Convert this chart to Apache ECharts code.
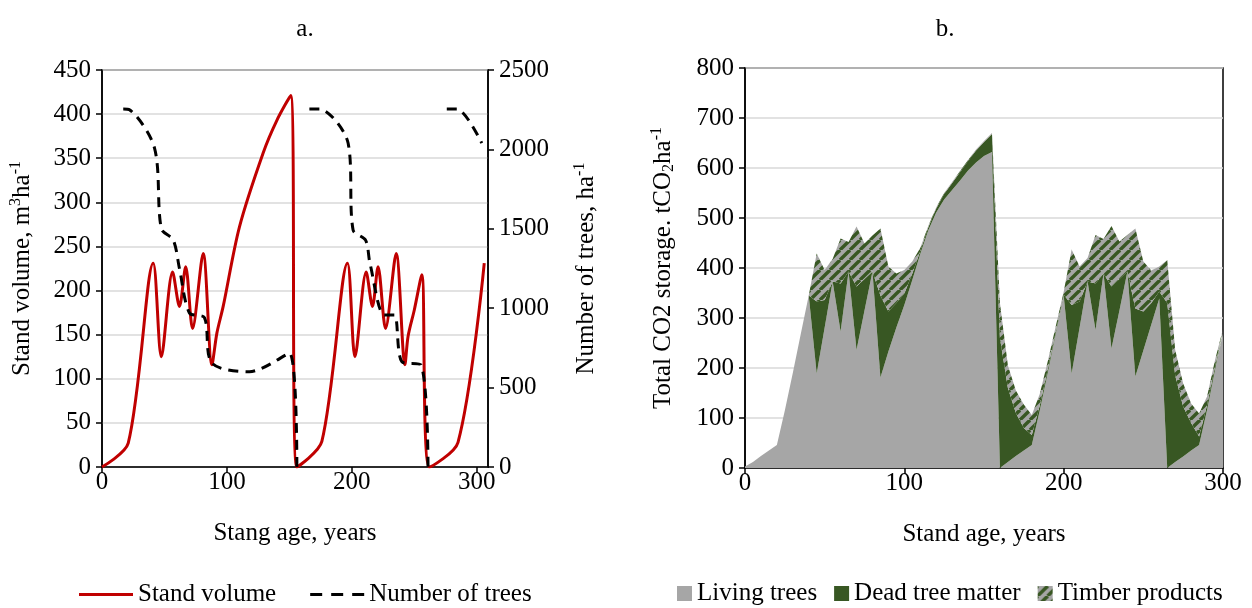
<!DOCTYPE html>
<html><head><meta charset="utf-8">
<script src="https://cdn.jsdelivr.net/npm/echarts@6/dist/echarts.min.js"></script>
<style>html,body{margin:0;padding:0;background:#fff;}#c{width:1252px;height:608px;}</style>
</head><body><div id="c"></div>
<script>
// ---------- Chart a: stand volume & number of trees ----------
const volumeAge   = [0, 21, 41, 47.5, 56.5, 62, 67, 72.5, 81, 88, 92, 97, 110, 129, 140, 151, 156,
                     176, 196.5, 202.5, 211.5, 216.5, 221, 227, 235.5, 242.5, 245, 250, 256, 262, 285, 306];
const standVolume = [0, 27, 231, 125, 221, 182, 227, 157, 242, 116, 152, 182, 272, 356, 393, 421, 0,
                     29, 231, 125, 221, 182, 227, 157, 242, 116, 148, 178, 218, 0, 28, 231];

const treesAge    = [17, 22, 42, 47.5, 57, 62, 70, 82, 88, 118, 150, 156, 160,
                     166, 174, 197, 201, 211, 214.5, 226, 234, 240, 255.5, 261, 268, 276, 284, 304];
const treesCount  = [2255, 2250, 2010, 1500, 1430, 1250, 970, 940, 655, 600, 716, 0, null,
                     2254, 2254, 2040, 1492, 1429, 1283, 957, 957, 663, 642, 0, null, 2254, 2254, 2040];

// ---------- Chart b: total CO2 storage (stacked) ----------
const ageB = [0,5,10,15,20,25,30,35,40,45,50,55,60,65,70,75,80,85,90,95,100,105,110,115,120,125,130,135,140,145,150,155,
              160,165,170,175,180,185,190,195,200,205,210,215,220,225,230,235,240,245,250,255,260,265,270,275,280,285,290,295,300];
const livingTrees = [3,12,24,35,46,115,190,268,345,189,281,373,273,393,236,315,393,181,233,281,326,376,428,475,511,537,556,575,595,611,624,632,
                     0,12,24,35,46,115,190,268,345,189,281,373,276,389,239,315,393,183,235,287,339,0,12,23,35,46,116,196,270];
const deadTreeMatter = [0,0,0,0,0,0,0,0,0,144,55,0,96,0,127,63,0,164,80,49,23,13,6,6,8,11,14,17,19,24,28,36,
                     260,148,86,45,20,10,7,4,2,137,52,0,93,0,124,63,0,136,78,43,14,330,173,100,55,17,10,7,4];
const timberProducts = [0,0,0,0,0,0,0,0,0,96,60,45,90,59,120,71,72,134,90,59,47,24,6,3,2,2,2,2,2,2,2,2,
                     70,45,45,47,40,23,16,11,5,111,70,47,97,69,121,75,73,160,100,65,50,86,51,46,39,46,17,13,4];

const xTicksA = [0, 100, 200, 300];
const xTicksB = [0, 100, 200, 300];

const FONT = "'Liberation Serif', 'Times New Roman', serif";
const FS = 25;
const pairs = (xs, ys) => xs.map((x, i) => [x, ys[i]]);

// hatched pattern for timber products
const T = 10;
const pc = document.createElement('canvas');
pc.width = T; pc.height = T;
const g = pc.getContext('2d');
g.fillStyle = '#a6a6a6'; g.fillRect(0, 0, T, T);
g.strokeStyle = '#385723'; g.lineWidth = 3.4;
[-T, 0, T].forEach(o => { g.beginPath(); g.moveTo(o, T); g.lineTo(o + T, 0); g.stroke(); });
const hatch = { image: pc, repeat: 'repeat' };

const txt = { fontFamily: FONT, fontSize: FS, color: '#000' };
const axisLine = { show: true, lineStyle: { color: '#000', width: 1.5 } };
const tick = { show: true, inside: false, length: 6, lineStyle: { color: '#000', width: 1.5 } };
const split = { show: true, lineStyle: { color: '#d9d9d9', width: 1.5 } };
const plain = v => String(v);
const rich = {
  n: { fontFamily: FONT, fontSize: FS, color: '#000', lineHeight: 28 },
  sup: { fontFamily: FONT, fontSize: 16, color: '#000', lineHeight: 14, verticalAlign: 'top' },
  sub: { fontFamily: FONT, fontSize: 16, color: '#000', lineHeight: 14, verticalAlign: 'bottom' }
};
const isTickB = (i, v) => xTicksB.indexOf(Number(v)) >= 0;

const chart = echarts.init(document.getElementById('c'), null, { renderer: 'canvas' });
chart.setOption({
  animation: false,
  backgroundColor: '#fff',
  title: [
    { text: 'a.', left: 300, top: 12, textAlign: 'center', textStyle: { fontFamily: FONT, fontSize: FS, fontWeight: 'normal', color: '#000' } },
    { text: 'b.', left: 940, top: 12, textAlign: 'center', textStyle: { fontFamily: FONT, fontSize: FS, fontWeight: 'normal', color: '#000' } }
  ],
  legend: [
    { left: 74, top: 577, itemWidth: 54, itemHeight: 3, itemGap: 34, textStyle: txt,
      data: [
        { name: 'Stand volume', icon: 'path://M0,0h54v3h-54z' },
        { name: 'Number of trees', icon: 'path://M0,0h12v3h-12zM21,0h12v3h-12zM42,0h12v3h-12z' }
      ] },
    { data: ['Living trees', 'Dead tree matter', 'Timber products'], left: 672, top: 576, icon: 'rect',
      itemWidth: 15, itemHeight: 15, itemGap: 17, textStyle: txt }
  ],
  grid: [
    { left: 102, top: 70, width: 386, height: 397, show: true, borderColor: '#000', borderWidth: 1.5 },
    { left: 745, top: 68, width: 478, height: 400, show: true, borderColor: '#000', borderWidth: 1.5 }
  ],
  xAxis: [
    { gridIndex: 0, type: 'value', min: 0, max: 309, interval: 100,
      axisLine, axisTick: Object.assign({ customValues: xTicksA }, tick),
      axisLabel: Object.assign({ customValues: xTicksA, margin: 3 }, txt), splitLine: { show: false },
      name: 'Stang age, years', nameLocation: 'middle', nameGap: 54, nameTextStyle: txt },
    { gridIndex: 1, type: 'category', data: ageB, boundaryGap: false,
      axisLine, axisTick: Object.assign({}, tick, { interval: isTickB }),
      axisLabel: Object.assign({ margin: 3, interval: isTickB }, txt), splitLine: { show: false },
      name: 'Stand age, years', nameLocation: 'middle', nameGap: 54, nameTextStyle: txt }
  ],
  yAxis: [
    { gridIndex: 0, type: 'value', position: 'left', min: 0, max: 450, interval: 50,
      axisLine, axisTick: tick, axisLabel: Object.assign({ margin: 11, formatter: plain }, txt), splitLine: split,
      name: '{n|Stand volume, m}{sup|3}{n|ha}{sup|-1}', nameLocation: 'middle', nameGap: 66,
      nameTextStyle: { rich } },
    { gridIndex: 0, type: 'value', position: 'right', min: 0, max: 2500, interval: 500,
      axisLine, axisTick: tick, axisLabel: Object.assign({ margin: 11, formatter: plain }, txt), splitLine: { show: false },
      name: '{n|Number of trees, ha}{sup|-1}', nameLocation: 'middle', nameGap: 84,
      nameTextStyle: { rich } },
    { gridIndex: 1, type: 'value', min: 0, max: 800, interval: 100,
      axisLine, axisTick: tick, axisLabel: Object.assign({ margin: 11, formatter: plain }, txt), splitLine: split,
      name: '{n|Total CO2 storage. tCO}{sub|2}{n|ha}{sup|-1}', nameLocation: 'middle', nameGap: 68,
      nameTextStyle: { rich } }
  ],
  series: [
    { name: 'Stand volume', type: 'line', xAxisIndex: 0, yAxisIndex: 0, data: pairs(volumeAge, standVolume),
      smooth: 0.3, symbol: 'none', color: '#c00000', lineStyle: { color: '#c00000', width: 3 } },
    { name: 'Number of trees', type: 'line', xAxisIndex: 0, yAxisIndex: 1, data: pairs(treesAge, treesCount),
      smooth: 0.3, symbol: 'none', connectNulls: false, color: '#000',
      lineStyle: { color: '#000', width: 3, type: [10, 7] } },
    { name: 'Living trees', type: 'line', xAxisIndex: 1, yAxisIndex: 2, stack: 'co2', data: livingTrees,
      symbol: 'none', color: '#a6a6a6', lineStyle: { width: 0 }, areaStyle: { color: '#a6a6a6', opacity: 1 } },
    { name: 'Dead tree matter', type: 'line', xAxisIndex: 1, yAxisIndex: 2, stack: 'co2', data: deadTreeMatter,
      symbol: 'none', color: '#385723', lineStyle: { width: 0 }, areaStyle: { color: '#385723', opacity: 1 } },
    { name: 'Timber products', type: 'line', xAxisIndex: 1, yAxisIndex: 2, stack: 'co2', data: timberProducts,
      symbol: 'none', color: hatch, itemStyle: { color: hatch }, lineStyle: { width: 0 }, areaStyle: { color: hatch, opacity: 1 } }
  ]
});
</script></body></html>
